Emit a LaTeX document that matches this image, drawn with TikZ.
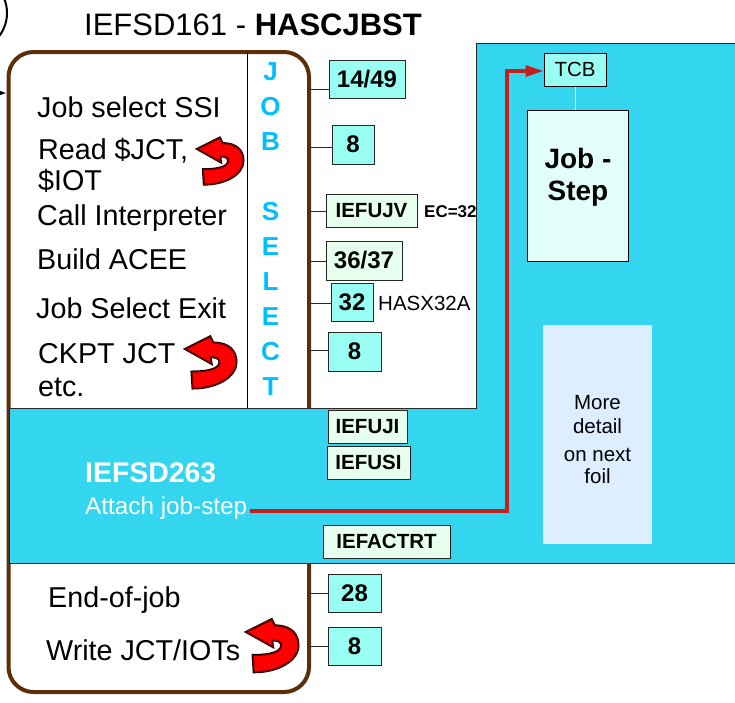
\documentclass[tikz,border=0pt]{standalone}
\usepackage{fontspec}
\setmainfont{Liberation Sans}
\usetikzlibrary{arrows.meta}
\definecolor{brown2}{HTML}{5c2e0a}
\definecolor{blue5}{HTML}{33d6ee}
\definecolor{blue7}{HTML}{00bfff}
\definecolor{blue9}{HTML}{dceeff}
\definecolor{cyan9}{HTML}{99fff2}
\definecolor{cyan10}{HTML}{e2fffa}
\definecolor{green9}{HTML}{e6ffee}
\definecolor{red2}{HTML}{c41e1e}
\tikzset{
  stepbox/.style={draw=black!85, line width=1, inner sep=0, font=\fontsize{#1}{#1}\selectfont\bfseries},
  stepbox/.default=24,
  cyanbox/.style={stepbox=24, fill=cyan9},
  greenbox/.style={stepbox=20.5, fill=green9},
  txt/.style={anchor=base west, inner sep=0, font=\fontsize{#1}{#1}\selectfont},
  txt/.default=28.7,
  tick/.style={line width=1, black!85},
  uturn/.pic={
    \def\uturnpath{(0,0) -- (24,-12) -- (27,-6) .. controls (44,-6) and (50,3) .. (50,13)
      .. controls (50,28) and (30,39) .. (7,39) -- (6,23)
      .. controls (16,23) and (34,22) .. (34,13) .. controls (34,9) and (29,7) .. (24,8)
      -- (25,14) -- cycle}
    \draw[black, line width=3, line join=miter] \uturnpath;
    \filldraw[draw=red!50!black, fill=red, line width=1.4] \uturnpath;
  }
}
\begin{document}
\begin{tikzpicture}[x=1pt, y=-1pt]
\clip (0,0) rectangle (735,702);
% corner bits
\draw[line width=2] (-31,13) circle (38);
\coordinate (entry) at (-6,93);
\node[draw=brown2, line width=4, fill=white, rounded corners=25, minimum width=300.5, minimum height=640, inner sep=0] (frame) at (158.75,372) {};
\draw[-{Latex[length=8,width=6]}, line width=1.2] (entry) -- (frame.west |- entry);
\draw[line width=1] (247,52) -- (247,408);
% blue area
\filldraw[fill=blue5, draw=black!85, line width=1] (9.5,408) -- (476,408) -- (476,43) -- (740,43) -- (740,563) -- (9.5,563) -- cycle;
% title
\node[txt=31] (title) at (84,35) {IEFSD161 - \textbf{HASCJBST}};
% left column
\node[txt] (ssi) at (37,117) {Job select SSI};
\node[txt] (read) at (38,159) {Read \$JCT,};
\node[txt] (iot) at (38,190) {\$IOT};
\node[txt] (call) at (37,225) {Call Interpreter};
\node[txt] (acee) at (37,269) {Build ACEE};
\node[txt] (exit) at (36,318) {Job Select Exit};
\node[txt] (ckpt) at (38,363) {CKPT JCT};
\node[txt] (etc) at (38,396) {etc.};
\node[txt] (eoj) at (48,607) {End-of-job};
\node[txt] (wjct) at (46,660) {Write JCT/IOTs};
\pic[scale=0.9] at (198,149) {uturn};
\pic at (186,349) {uturn};
\pic[scale=1.02] at (247,632) {uturn};
% side letters
\foreach \c/\y in {J/72, O/107, B/142, S/212, E/247, L/282, E/317, C/352, T/387}
  \node[blue7, inner sep=0, font=\fontsize{26}{26}\selectfont\bfseries] (let\y) at (270.5,\y) {\c};
% step boxes
\node[cyanbox, minimum width=76, minimum height=38] (b1) at (367,79) {14/49};
\node[cyanbox, minimum width=42, minimum height=39] (b2) at (353,144.5) {8};
\node[greenbox, minimum width=91, minimum height=33] (b3) at (371.5,210.5) {IEFUJV};
\node[stepbox=24, fill=green9, minimum width=76, minimum height=39] (b4) at (364,260.5) {36/37};
\node[cyanbox, minimum width=42, minimum height=38] (b5) at (352,302) {32};
\node[cyanbox, minimum width=53, minimum height=39] (b6) at (354.5,351.5) {8};
\node[cyanbox, minimum width=53, minimum height=38] (b7) at (354.5,593) {28};
\node[cyanbox, minimum width=53, minimum height=38] (b8) at (354.5,646) {8};
\foreach \b/\y in {b1/89, b2/147, b3/211, b4/261, b5/303, b6/350, b7/593, b8/646}
  \draw[tick] (\b.west |- 0,\y) -- (frame.east |- 0,\y);
\node[greenbox, minimum width=79, minimum height=33] (uji) at (367.5,426.5) {IEFUJI};
\node[greenbox, minimum width=83, minimum height=33] (usi) at (368.5,462.5) {IEFUSI};
\node[greenbox, minimum width=127, minimum height=33] (actrt) at (386.5,541.5) {IEFACTRT};
\node[txt=17] (ec) at (424,217) {\bfseries EC=32};
\node[txt=20.5] (x32) at (378,310) {HASX32A};
% right part
\node[draw=black, line width=1, fill=cyan9, minimum width=62, minimum height=33, inner sep=0, font=\fontsize{20.5}{20.5}\selectfont] (tcb) at (575,69.5) {TCB};
\node[draw=black, line width=1, fill=cyan10, minimum width=101, minimum height=151, inner sep=0] (step) at (578,185.5) {};
\node[txt=28, anchor=base, font=\fontsize{28}{28}\selectfont\bfseries] (job) at (578,168) {Job -};
\node[txt=28, anchor=base, font=\fontsize{28}{28}\selectfont\bfseries] (stp) at (578,200) {Step};
\draw[white, line width=1] (tcb.south) -- (tcb.south |- step.north);
\node[fill=blue9, minimum width=109, minimum height=219, inner sep=0] (foil) at (597.5,434.5) {};
\node[txt=20.5, anchor=base] (more) at (597.5,409) {More};
\node[txt=20.5, anchor=base] (detail) at (597.5,433) {detail};
\node[txt=20.5, anchor=base] (next) at (597.5,461) {on next};
\node[txt=20.5, anchor=base] (foiltxt) at (597.5,483) {foil};
% step 263
\node[txt=28.4, white] (sd263) at (85,482) {\bfseries IEFSD263};
\node[txt=24.3, white] (attach) at (85,514) {Attach job-step};
\coordinate (jobout) at (250,511);
\draw[red2, line width=3.2, -{Triangle[length=18,width=11]}] (jobout) -- (507,511) -- (507,71) -- (tcb.west |- 0,71);
\end{tikzpicture}
\end{document}
